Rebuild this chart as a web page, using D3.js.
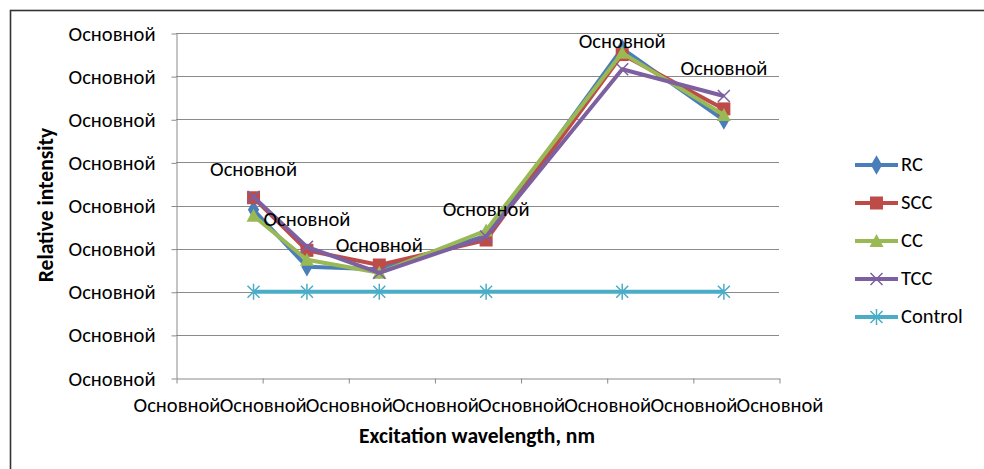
<!DOCTYPE html>
<html>
<head>
<meta charset="utf-8">
<script src="https://cdn.jsdelivr.net/npm/d3@7"></script>
<style>
  html, body { margin: 0; padding: 0; background: #fff; }
  svg { display: block; }
  text { font-family: Carlito, Lato, "Open Sans", sans-serif; fill: #000; }
</style>
</head>
<body>
<svg id="chart" width="984" height="469"></svg>
<script>
// Excitation wavelengths (nm) and relative intensities per sample
const wavelengths = [245, 276, 318, 380, 459, 518];
const seriesNames = ["RC", "SCC", "CC", "TCC", "Control"];
const rcValues      = [1.95, 1.29, 1.26, 1.65, 3.82, 2.99];
const sccValues     = [2.09, 1.48, 1.31, 1.60, 3.75, 3.12];
const ccValues      = [1.88, 1.37, 1.22, 1.71, 3.77, 3.05];
const tccValues     = [2.10, 1.52, 1.22, 1.64, 3.58, 3.27];
const controlValues = [1.00, 1.00, 1.00, 1.00, 1.00, 1.00];
const xTicks = [200, 250, 300, 350, 400, 450, 500, 550];
const yTicks = [0, 0.5, 1, 1.5, 2, 2.5, 3, 3.5, 4];
const tickLabel = "Основной";
const xTitle = "Excitation wavelength, nm";
const yTitle = "Relative intensity";

const seriesValues = [rcValues, sccValues, ccValues, tccValues, controlValues];
const colors = ["#4A7EBB", "#BE4B48", "#98B954", "#7D60A0", "#4BACC6"];
const markers = ["diamond", "square", "triangle", "x", "star"];

const svg = d3.select("#chart");

// outer chart frame (continues past the right and bottom edges)
svg.append("rect")
  .attr("x", 10.5).attr("y", 10.5)
  .attr("width", 1000).attr("height", 500)
  .attr("fill", "#fff").attr("stroke", "#333").attr("stroke-width", 1.6);

// pick a font size so the label text spans the width of one x interval
function fitFont(text, target, weight) {
  const t = svg.append("text").attr("font-size", 100).attr("font-weight", weight || "normal").text(text);
  const w = t.node().getComputedTextLength();
  t.remove();
  return 100 * target / w;
}
const fs = fitFont(tickLabel, 87);

const x = d3.scaleLinear().domain([200, 550]).range([176, 779]);
const y = d3.scaleLinear().domain([0, 4]).range([378, 33]);

// horizontal gridlines
svg.append("g").selectAll("line").data(yTicks.slice(1)).join("line")
  .attr("x1", 176).attr("x2", 779)
  .attr("y1", d => Math.round(y(d)) + 0.5).attr("y2", d => Math.round(y(d)) + 0.5)
  .attr("stroke", "#8a8a8a").attr("stroke-width", 1);

// y axis
const yAxis = d3.axisLeft(y).tickValues(yTicks).tickSize(5).tickSizeOuter(0).tickPadding(16)
  .tickFormat(() => tickLabel);
const gy = svg.append("g").attr("transform", "translate(176.5,0.5)").call(yAxis);
gy.select(".domain").attr("stroke", "#8a8a8a");
gy.selectAll(".tick line").attr("stroke", "#8a8a8a");
gy.selectAll(".tick text").attr("font-size", fs).attr("fill", "#000")
  .style("font-family", "Carlito, Lato, 'Open Sans', sans-serif");

// x axis
const xAxis = d3.axisBottom(x).tickValues(xTicks).tickSize(5).tickSizeOuter(0).tickPadding(14)
  .tickFormat(() => tickLabel);
const gx = svg.append("g").attr("transform", "translate(0.5,378.5)").call(xAxis);
gx.select(".domain").attr("stroke", "#8a8a8a");
gx.selectAll(".tick line").attr("stroke", "#8a8a8a");
gx.selectAll(".tick text").attr("font-size", fs).attr("fill", "#000")
  .style("font-family", "Carlito, Lato, 'Open Sans', sans-serif");

// axis titles
const tfs = fitFont(xTitle, 236, "bold");
svg.append("text").attr("x", 477).attr("y", 443).attr("text-anchor", "middle")
  .attr("font-weight", "bold").attr("font-size", tfs).text(xTitle);
svg.append("text").attr("transform", "translate(53,205) rotate(-90)").attr("text-anchor", "middle")
  .attr("font-weight", "bold").attr("font-size", tfs).text(yTitle);

// marker shapes
function drawMarker(g, kind, cx, cy, color) {
  if (kind === "diamond") {
    g.append("path").attr("d", d3.symbol(d3.symbolDiamond, 110)())
      .attr("transform", `translate(${cx},${cy})`).attr("fill", color);
  } else if (kind === "square") {
    g.append("rect").attr("x", cx - 6.5).attr("y", cy - 6.5).attr("width", 13).attr("height", 13).attr("fill", color);
  } else if (kind === "triangle") {
    g.append("path").attr("d", `M${cx},${cy - 7}L${cx + 7},${cy + 6}L${cx - 7},${cy + 6}Z`).attr("fill", color);
  } else if (kind === "x") {
    g.append("path").attr("d", `M${cx - 6},${cy - 6}L${cx + 6},${cy + 6}M${cx - 6},${cy + 6}L${cx + 6},${cy - 6}`)
      .attr("stroke", color).attr("stroke-width", 1.5).attr("fill", "none");
  } else if (kind === "star") {
    g.append("path").attr("d",
      `M${cx - 6},${cy - 6}L${cx + 6},${cy + 6}M${cx - 6},${cy + 6}L${cx + 6},${cy - 6}M${cx},${cy - 8}L${cx},${cy + 8}`)
      .attr("stroke", color).attr("stroke-width", 1.5).attr("fill", "none");
  }
}

const line = d3.line().x(d => x(d[0])).y(d => y(d[1]));
const plot = svg.append("g");

// Control first, then samples so TCC sits on top
const order = [4, 0, 1, 2, 3];
order.forEach(i => {
  const pts = wavelengths.map((w, k) => [w, seriesValues[i][k]]);
  const g = plot.append("g");
  g.append("path").attr("d", line(pts)).attr("fill", "none")
    .attr("stroke", colors[i]).attr("stroke-width", 4).attr("stroke-linejoin", "round");
  pts.forEach(p => drawMarker(g, markers[i], x(p[0]), y(p[1]), colors[i]));
});

// data labels above TCC points
plot.append("g").selectAll("text").data(wavelengths).join("text")
  .attr("x", (w) => x(w))
  .attr("y", (w, k) => y(tccValues[k]) - 21)
  .attr("text-anchor", "middle").attr("font-size", fs).text(tickLabel);

// legend
const lg = svg.append("g");
seriesNames.forEach((name, i) => {
  const ly = 165 + i * 38;
  lg.append("line").attr("x1", 855).attr("x2", 898).attr("y1", ly).attr("y2", ly)
    .attr("stroke", colors[i]).attr("stroke-width", 4);
  drawMarker(lg, markers[i], 876.5, ly, colors[i]);
  lg.append("text").attr("x", 901).attr("y", ly + 6).attr("font-size", fs).text(name);
});
</script>
</body>
</html>
